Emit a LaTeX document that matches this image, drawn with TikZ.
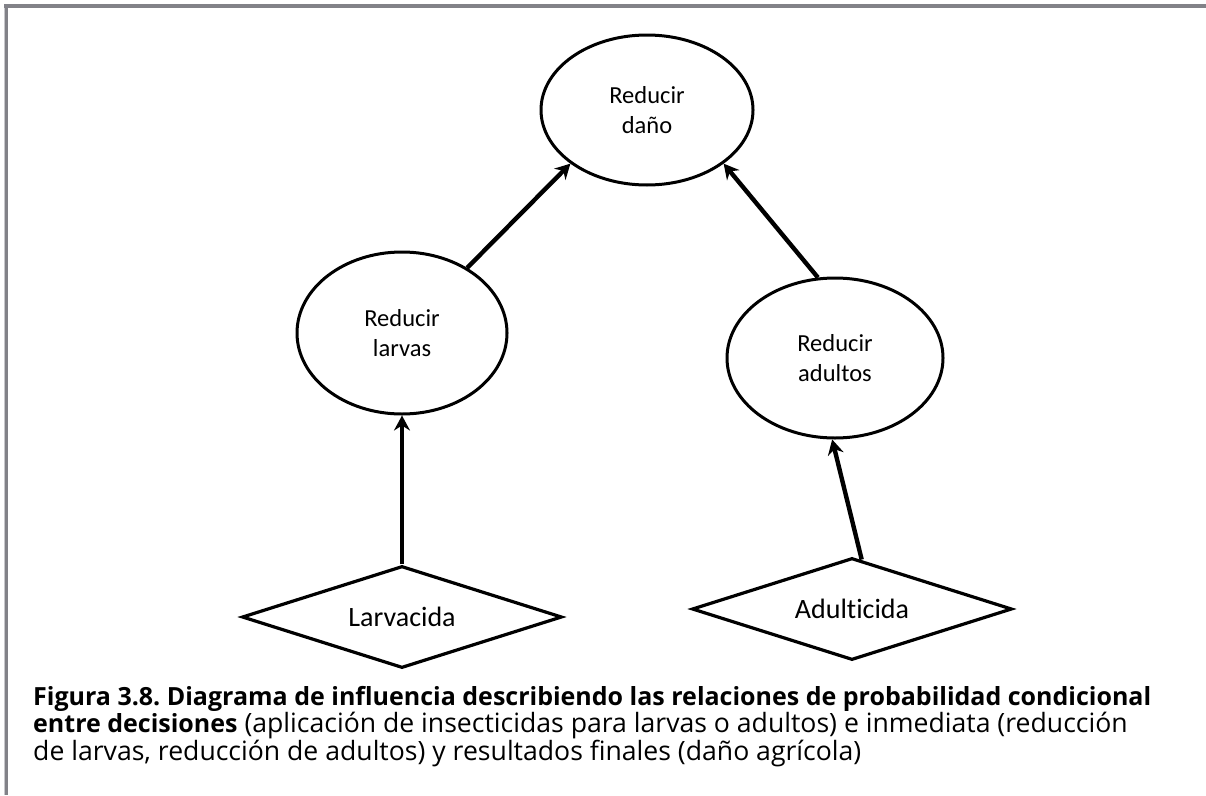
\documentclass[tikz,border=0pt]{standalone}
\usepackage{fontspec}
\setmainfont{Carlito}[Ligatures=NoCommon]
\newfontfamily\capfont{Open Sans}
\usetikzlibrary{shapes.geometric,arrows.meta,calc}
\definecolor{framegray}{RGB}{130,130,136}
\definecolor{framelight}{RGB}{200,200,204}
\frenchspacing
\newcommand\capbold[1]{{\fontsize{25}{27.5}\selectfont\bfseries #1}}
\begin{document}
\begin{tikzpicture}[x=1pt,y=-1pt,
  goal/.style={ellipse,draw=black,line width=3pt,align=center,
    inner sep=0pt,font=\fontsize{24.5}{30}\selectfont},
  choice/.style={diamond,draw=black,line width=3.2pt,aspect=3.1,
    inner sep=0pt,font=\fontsize{28}{32}\selectfont},
  link/.style={line width=4.4pt,-{Stealth[length=15pt,width=16pt,inset=5pt]}},
  captext/.style={anchor=base west,inner sep=0pt,
    font=\capfont\fontsize{26.6}{27.5}\selectfont}]
\useasboundingbox (0,0) rectangle (1206,795);
% frame along the top and left edges
\fill[framelight] (4,4) rectangle (5,795);
\fill[framegray] (5,4) rectangle (8,795);
\fill[framegray] (4,4) rectangle (1206,8);

% outcomes
\node[goal,minimum width=212pt,minimum height=150pt] (dano) at (647,110) {Reducir\\daño};
\node[goal,minimum width=210pt,minimum height=162pt] (larvas) at (402,333) {Reducir\\larvas};
\node[goal,minimum width=216pt,minimum height=160pt] (adultos) at (835,358) {Reducir\\adultos};

% decisions
\node[choice,minimum width=320pt,minimum height=102pt] (larvicida) at (402,617) {Larvacida};
\node[choice,minimum width=320pt,minimum height=102pt] (adulticida) at (852,609) {Adulticida};

% influences
\draw[link] (larvas.45) -- (dano.215);
\draw[link] (adultos.102) -- (dano.325);
\draw[link] (larvicida.north) -- (larvas.south);
\draw[link] ($(adulticida.north)!0.06!(adulticida.east)$) -- (adultos.268);

% caption
\node[captext] (cap1) at (33,705) {\capbold{Figura 3.8. Diagrama de influencia describiendo las relaciones de probabilidad condicional}};
\node[captext] (cap2) at (33,732.5) {\capbold{entre decisiones} (aplicación de insecticidas para larvas o adultos) e inmediata (reducción};
\node[captext] (cap3) at (33,760) {de larvas, reducción de adultos) y resultados finales (daño agrícola)};
\end{tikzpicture}
\end{document}
